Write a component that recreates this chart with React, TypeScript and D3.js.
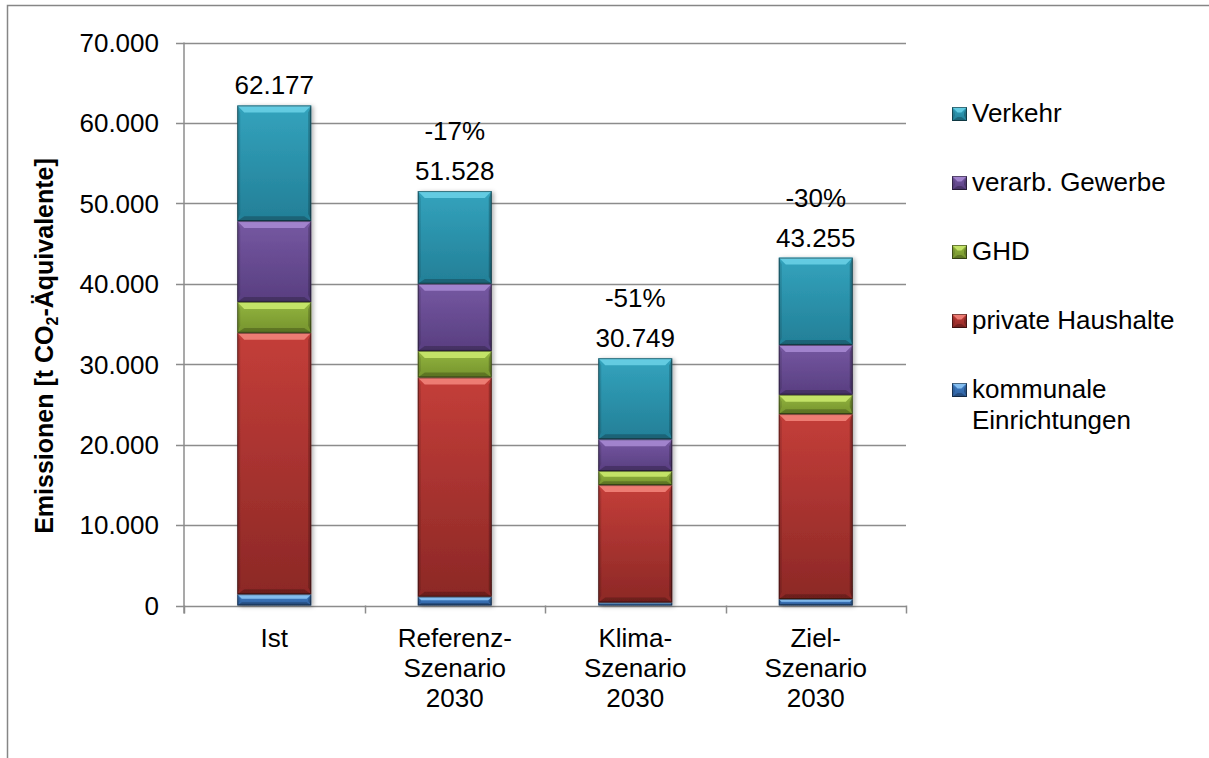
import { useEffect, useRef } from "react";
import * as d3 from "d3";

const categories = ["Ist", "Referenz", "Klima", "Ziel"];
const categoryLines = [
  ["Ist"],
  ["Referenz-", "Szenario", "2030"],
  ["Klima-", "Szenario", "2030"],
  ["Ziel-", "Szenario", "2030"],
];

// stack order, bottom to top
const seriesKeys = ["kommunal", "privat", "ghd", "gewerbe", "verkehr"];
const legendLines = [
  ["kommunale", "Einrichtungen"],
  ["private Haushalte"],
  ["GHD"],
  ["verarb. Gewerbe"],
  ["Verkehr"],
];

const kommunal = [1400, 1100, 370, 800];
const privat = [32500, 27250, 14600, 23000];
const ghd = [3850, 3300, 1750, 2400];
const gewerbe = [10050, 8350, 3950, 6200];
const verkehr = [14377, 11528, 10079, 10855];

const yTicks = [0, 10000, 20000, 30000, 40000, 50000, 60000, 70000];

// top colour, bottom colour, bevel highlight
const palette = [
  ["#4080c8", "#2f5f9e", "#8cc4f4"],
  ["#c43e39", "#8c2826", "#f2837a"],
  ["#93b53f", "#75932d", "#c9e86c"],
  ["#7658a2", "#583e80", "#a688d2"],
  ["#33a3bd", "#237f97", "#68cfe6"],
];

const W = 1209;
const H = 758;
const FONT = "'Liberation Sans', Arial, sans-serif";
const FS = 26;

export default function App() {
  const svgRef = useRef<SVGSVGElement>(null);

  useEffect(() => {
    if (!svgRef.current) return;
    const svg = d3.select(svgRef.current);
    svg.selectAll("*").remove();

    const plot = { left: 184, right: 906, top: 42.5, bottom: 605.5 };
    const de = d3.formatLocale({
      decimal: ",",
      thousands: ".",
      grouping: [3],
      currency: ["", " €"],
      minus: "-",
    });
    const fmtNum = de.format(",d");
    const fmtPct = de.format(".0%");

    const rows = categories.map((c, i) => ({
      cat: c,
      kommunal: kommunal[i],
      privat: privat[i],
      ghd: ghd[i],
      gewerbe: gewerbe[i],
      verkehr: verkehr[i],
    }));
    const totals = rows.map((r) => d3.sum(seriesKeys, (k) => (r as any)[k] as number));

    const x = d3
      .scaleBand<string>()
      .domain(categories)
      .range([plot.left, plot.right])
      .paddingInner(0.59)
      .paddingOuter(0.295);
    const y = d3.scaleLinear().domain([0, 70000]).range([plot.bottom, plot.top]);

    const defs = svg.append("defs");
    palette.forEach((p, i) => {
      const g = defs
        .append("linearGradient")
        .attr("id", `grad-${i}`)
        .attr("x1", 0)
        .attr("y1", 0)
        .attr("x2", 0)
        .attr("y2", 1);
      g.append("stop").attr("offset", "0%").attr("stop-color", p[0]);
      g.append("stop").attr("offset", "100%").attr("stop-color", p[1]);
    });
    const shadow = defs
      .append("filter")
      .attr("id", "shadow")
      .attr("x", "-20%")
      .attr("y", "-5%")
      .attr("width", "140%")
      .attr("height", "110%");
    shadow
      .append("feDropShadow")
      .attr("dx", 2)
      .attr("dy", 1)
      .attr("stdDeviation", 2)
      .attr("flood-color", "#000")
      .attr("flood-opacity", 0.3);

    // outer frame (right and bottom edges fall outside the picture)
    svg
      .append("rect")
      .attr("x", 7.5)
      .attr("y", 5.5)
      .attr("width", W + 10)
      .attr("height", H + 10)
      .attr("fill", "#fff")
      .attr("stroke", "#868686")
      .attr("stroke-width", 1.5);

    // gridlines
    svg
      .append("g")
      .selectAll("line")
      .data(yTicks)
      .join("line")
      .attr("x1", plot.left - 8)
      .attr("x2", plot.right)
      .attr("y1", (d) => Math.round(y(d)) + 0.5)
      .attr("y2", (d) => Math.round(y(d)) + 0.5)
      .attr("stroke", "#8c8c8c")
      .attr("stroke-width", 1.5);

    // y axis line
    svg
      .append("line")
      .attr("x1", plot.left)
      .attr("x2", plot.left)
      .attr("y1", plot.top)
      .attr("y2", plot.bottom + 8)
      .attr("stroke", "#8c8c8c")
      .attr("stroke-width", 1.5);

    // x ticks at band edges
    const edges = categories
      .map((c) => x(c)! - (x.step() - x.bandwidth()) / 2)
      .concat([plot.right]);
    svg
      .append("g")
      .selectAll("line")
      .data(edges)
      .join("line")
      .attr("x1", (d) => Math.round(d) + 0.5)
      .attr("x2", (d) => Math.round(d) + 0.5)
      .attr("y1", plot.bottom)
      .attr("y2", plot.bottom + 8)
      .attr("stroke", "#8c8c8c")
      .attr("stroke-width", 1.5);

    // y tick labels
    svg
      .append("g")
      .selectAll("text")
      .data(yTicks)
      .join("text")
      .attr("x", 159)
      .attr("y", (d) => y(d))
      .attr("dy", "0.36em")
      .attr("text-anchor", "end")
      .attr("font-family", FONT)
      .attr("font-size", FS)
      .attr("fill", "#000")
      .text((d) => fmtNum(d));

    // y axis title
    const title = svg
      .append("text")
      .attr("transform", `translate(53,${(plot.top + plot.bottom) / 2 + 22}) rotate(-90)`)
      .attr("text-anchor", "middle")
      .attr("font-family", FONT)
      .attr("font-size", 25)
      .attr("font-weight", "bold")
      .attr("fill", "#000");
    title.append("tspan").text("Emissionen [t CO");
    title.append("tspan").attr("font-size", 16).attr("dy", 5).text("2");
    title.append("tspan").attr("dy", -5).text("-Äquivalente]");

    // stacked bars with a bevelled look
    const stacked = d3.stack<any>().keys(seriesKeys)(rows);
    const bevel = (
      x0: number,
      y0: number,
      w: number,
      h: number,
      i: number,
      g: d3.Selection<SVGGElement, unknown, null, undefined>,
    ) => {
      const b = Math.min(7, h / 2.5);
      const x1 = x0 + w;
      const y1 = y0 + h;
      g.append("rect")
        .attr("x", x0)
        .attr("y", y0)
        .attr("width", w)
        .attr("height", h)
        .attr("fill", `url(#grad-${i})`);
      const poly = (pts: number[][], fill: string, op: number) =>
        g
          .append("polygon")
          .attr("points", pts.map((p) => p.join(",")).join(" "))
          .attr("fill", fill)
          .attr("opacity", op);
      poly([[x0, y0], [x1, y0], [x1 - b, y0 + b], [x0 + b, y0 + b]], palette[i][2], 0.9);
      const s = Math.min(3, b);
      poly([[x0, y0], [x0 + s, y0 + b], [x0 + s, y1 - b], [x0, y1]], "#000", 0.12);
      poly([[x1, y0], [x1 - s, y0 + b], [x1 - s, y1 - b], [x1, y1]], "#000", 0.22);
      poly([[x0, y1], [x0 + b, y1 - b * 0.7], [x1 - b, y1 - b * 0.7], [x1, y1]], "#000", 0.22);
      g.append("rect")
        .attr("x", x0 + 0.5)
        .attr("y", y0 + 0.5)
        .attr("width", Math.max(0, w - 1))
        .attr("height", Math.max(0, h - 1))
        .attr("fill", "none")
        .attr("stroke", "#000")
        .attr("stroke-opacity", 0.45)
        .attr("stroke-width", 1);
    };

    categories.forEach((c, ci) => {
      const col = svg.append("g").attr("filter", "url(#shadow)");
      stacked.forEach((layer, si) => {
        const d = layer[ci];
        const yTop = y(d[1]);
        const yBot = y(d[0]);
        bevel(x(c)!, yTop, x.bandwidth(), yBot - yTop, si, col);
      });
    });

    // total and change labels
    categories.forEach((c, ci) => {
      const cx = x(c)! + x.bandwidth() / 2;
      const ty = y(totals[ci]) - 11;
      svg
        .append("text")
        .attr("x", cx)
        .attr("y", ty)
        .attr("text-anchor", "middle")
        .attr("font-family", FONT)
        .attr("font-size", FS)
        .text(fmtNum(totals[ci]));
      if (ci > 0) {
        svg
          .append("text")
          .attr("x", cx)
          .attr("y", ty - 40)
          .attr("text-anchor", "middle")
          .attr("font-family", FONT)
          .attr("font-size", FS)
          .text(fmtPct(totals[ci] / totals[0] - 1));
      }
    });

    // category labels
    categories.forEach((c, ci) => {
      const t = svg
        .append("text")
        .attr("text-anchor", "middle")
        .attr("font-family", FONT)
        .attr("font-size", FS);
      categoryLines[ci].forEach((line, li) => {
        t.append("tspan")
          .attr("x", x(c)! + x.bandwidth() / 2)
          .attr("y", 647 + li * 30)
          .text(line);
      });
    });

    // legend, top entry is the top of the stack
    const legendOrder = d3.range(seriesKeys.length).reverse();
    legendOrder.forEach((si, k) => {
      const base = 122 + k * 69;
      const g = svg.append("g");
      bevel(952, base - 15, 15, 14, si, g);
      const t = g
        .append("text")
        .attr("font-family", FONT)
        .attr("font-size", FS)
        .attr("fill", "#000");
      legendLines[si].forEach((line, li) => {
        t.append("tspan").attr("x", 972).attr("y", base + li * 31).text(line);
      });
    });
  }, []);

  return (
    <svg
      ref={svgRef}
      width={W}
      height={H}
      style={{ position: "absolute", left: 0, top: 0, background: "#fff" }}
    />
  );
}
